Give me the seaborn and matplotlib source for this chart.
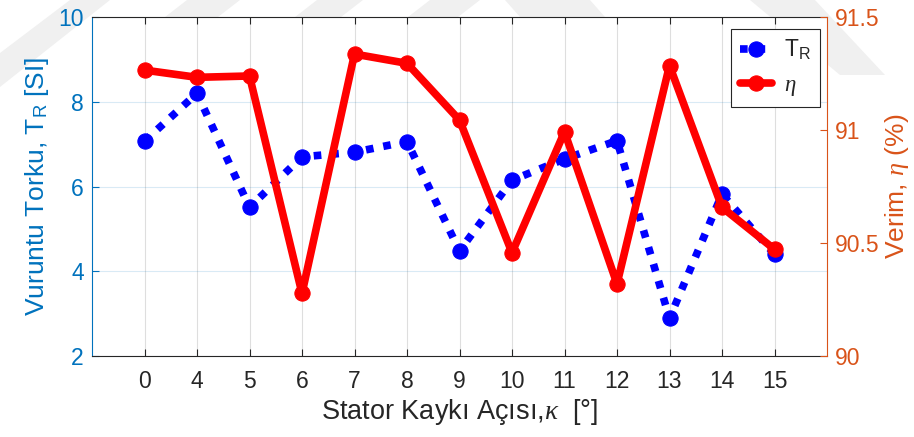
import matplotlib
matplotlib.use("Agg")
import matplotlib.pyplot as plt
from matplotlib.patches import Polygon
import seaborn as sns
import pandas as pd

# Stator skew angle (deg) and measured quantities
angles = ["0", "4", "5", "6", "7", "8", "9", "10", "11", "12", "13", "14", "15"]
cogging_torque = [7.07, 8.20, 5.51, 6.70, 6.81, 7.06, 4.48, 6.15, 6.65, 7.08, 2.89, 5.82, 4.40]
efficiency = [91.265, 91.233, 91.239, 90.277, 91.336, 91.295, 91.044, 90.457, 90.992,
              90.319, 91.285, 90.658, 90.472]

left_ticks = [2, 4, 6, 8, 10]
right_ticks = [90, 90.5, 91, 91.5]
right_tick_labels = ["90", "90.5", "91", "91.5"]

df = pd.DataFrame({"angle": angles, "torque": cogging_torque, "eff": efficiency})

sns.set_style("white")
plt.rcParams["font.family"] = ["Liberation Sans", "DejaVu Sans"]
plt.rcParams["mathtext.fontset"] = "custom"
plt.rcParams["mathtext.rm"] = "Liberation Sans"
plt.rcParams["mathtext.it"] = "Liberation Serif:italic"
plt.rcParams["mathtext.bf"] = "Liberation Sans:bold"

BLUE_AX = "#0072BD"
ORANGE_AX = "#D95319"
DARK = "#262626"

W, H = 914, 437
fig = plt.figure(figsize=(W / 100, H / 100), dpi=100)
fig.patch.set_facecolor("white")

# faint diagonal background bands
def px(points):
    return [(x / W, 1 - y / H) for x, y in points]

bands = [
    [(70, 0), (110, 0), (0, 87), (0, 53)],
    [(187, 0), (240, 0), (218, 17), (165, 17)],
    [(317, 0), (363, 0), (341, 17), (295, 17)],
    [(430, 0), (480, 0), (458, 17), (408, 17)],
    [(505, 0), (590, 0), (605, 17), (520, 17)],
    [(750, 0), (815, 0), (885, 75), (840, 75)],
]
for b in bands:
    fig.patches.append(Polygon(px(b), closed=True, transform=fig.transFigure,
                               facecolor="#f0f0f0", edgecolor="none", zorder=-5))

ax = fig.add_axes([92 / W, 1 - 356 / H, (827 - 92) / W, (356 - 17) / H])
ax.set_facecolor("white")
ax2 = ax.twinx()

sns.lineplot(data=df, x="angle", y="torque", ax=ax, sort=False, color="#0000FF",
             linestyle=(0, (1, 1.3)), linewidth=5.5, marker="o", markersize=11,
             markeredgecolor="#0000FF", markerfacecolor="#0000FF",
             label="T$_\\mathrm{R}$")
sns.lineplot(data=df, x="angle", y="eff", ax=ax2, sort=False, color="#FF0000",
             linewidth=5.5, marker="o", markersize=11,
             markeredgecolor="#FF0000", markerfacecolor="#FF0000",
             label="$\\eta$")

ax.set_xlim(-1, 13)
ax.set_ylim(2, 10)
ax.set_yticks(left_ticks)
ax.set_yticklabels([str(t) for t in left_ticks])
ax2.set_ylim(90, 91.5)
ax2.set_yticks(right_ticks)
ax2.set_yticklabels(right_tick_labels)

# grid: vertical grey, horizontal tinted by the left axis
ax.set_axisbelow(True)
ax.xaxis.grid(True, color=DARK, alpha=0.15, linewidth=0.8)
ax.yaxis.grid(True, color=BLUE_AX, alpha=0.15, linewidth=0.8)

ax.tick_params(axis="x", which="both", direction="in", length=5, width=0.8,
               colors=DARK, labelsize=16.5, pad=10, top=True, bottom=True)
ax.tick_params(axis="y", direction="in", length=5, width=0.8, colors=BLUE_AX,
               labelsize=16.5, pad=6, left=True, right=False)
ax2.tick_params(axis="y", direction="in", length=5, width=0.8, colors=ORANGE_AX,
                labelsize=16.5, pad=6)

for s in ["top", "bottom"]:
    ax.spines[s].set_color(DARK)
    ax.spines[s].set_linewidth(0.8)
ax.spines["left"].set_color(BLUE_AX)
ax.spines["left"].set_linewidth(0.8)
ax.spines["right"].set_visible(False)
ax2.spines["left"].set_visible(False)
ax2.spines["top"].set_visible(False)
ax2.spines["bottom"].set_visible(False)
ax2.spines["right"].set_color(ORANGE_AX)
ax2.spines["right"].set_linewidth(0.8)

ax.set_xlabel("Stator Kaykı Açısı,$\\kappa$  [°]", fontsize=19.5, color=DARK, labelpad=3)
ax.set_ylabel("Vuruntu Torku, T$_\\mathrm{R}$ [SI]", fontsize=19, color=BLUE_AX, labelpad=5)
ax2.set_ylabel("Verim, $\\eta$ (%)", fontsize=19, color=ORANGE_AX, labelpad=2)

h1, l1 = ax.get_legend_handles_labels()
h2, l2 = ax2.get_legend_handles_labels()
if ax.get_legend() is not None:
    ax.get_legend().remove()
if ax2.get_legend() is not None:
    ax2.get_legend().remove()
leg = ax2.legend(h1 + h2, l1 + l2, loc="upper right",
                 bbox_to_anchor=(1 - 7 / 735, 1 - 12 / 339),
                 fontsize=16.5, frameon=True, fancybox=False, shadow=False,
                 framealpha=1, edgecolor="#262626", handlelength=1.4,
                 handletextpad=0.5, borderpad=0.4, labelspacing=0.45,
                 borderaxespad=0.0)
leg.get_frame().set_linewidth(0.8)

fig.savefig("out.png", dpi=100, facecolor="white")
